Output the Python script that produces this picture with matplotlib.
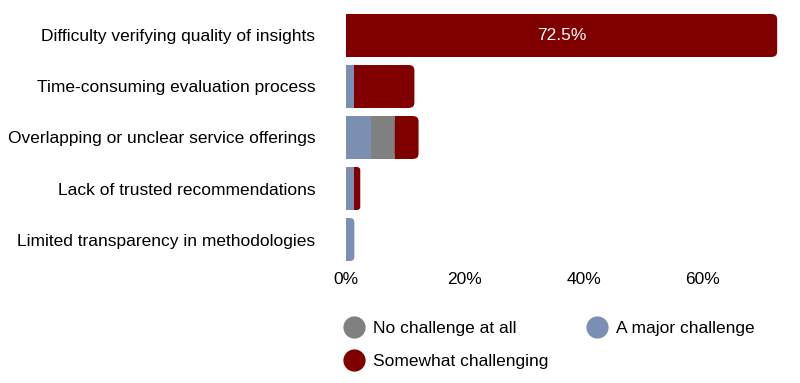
import matplotlib

matplotlib.use("Agg")
import matplotlib.pyplot as plt
from matplotlib.lines import Line2D
from matplotlib.patches import FancyBboxPatch

plt.rcParams["font.family"] = ["Liberation Sans Narrow", "Liberation Sans", "DejaVu Sans"]

categories = [
    "Difficulty verifying quality of insights",
    "Time-consuming evaluation process",
    "Overlapping or unclear service offerings",
    "Lack of trusted recommendations",
    "Limited transparency in methodologies",
]
major = [0.0, 1.4, 4.2, 1.4, 1.4]
no_challenge = [0.0, 0.0, 4.0, 0.0, 0.0]
somewhat = [72.5, 10.1, 4.0, 1.0, 0.0]
xticks = [0, 20, 40, 60]

BLUE = "#7a8fb1"
GRAY = "#808080"
RED = "#800000"
BAR_H = 0.84
XMAX = 76

fig = plt.figure(figsize=(8, 3.83), dpi=100)
ax = fig.add_axes([0.4325, 0.308, 0.5650, 0.666])
ax.set_ylim(4.5, -0.5)
ax.set_xlim(0, XMAX)

# y data units per x data unit, so rounded corners stay circular
bbox = ax.get_window_extent()
aspect = (5.0 / bbox.height) / (XMAX / bbox.width)
radius = 0.9

series = [(major, BLUE), (no_challenge, GRAY), (somewhat, RED)]
y = list(range(len(categories)))
for i in y:
    start = 0.0
    parts = [(vals[i], color) for vals, color in series if vals[i] > 0]
    for k, (w, color) in enumerate(parts):
        if k < len(parts) - 1:
            ax.barh(i, w, left=start, height=BAR_H, color=color, linewidth=0)
        else:
            r = min(radius, w / 2)
            ax.barh(i, w - r, left=start, height=BAR_H, color=color, linewidth=0)
            ax.add_patch(FancyBboxPatch((start, i - BAR_H / 2), w, BAR_H,
                                        boxstyle=f"round,pad=0,rounding_size={r}",
                                        mutation_aspect=aspect, facecolor=color, linewidth=0))
        start += w

for i, v in enumerate(somewhat):
    if v > 30:
        total = major[i] + no_challenge[i] + v
        ax.text(total / 2, i, f"{v}%", color="white", ha="center", va="center", fontsize=12.5)

ax.set_yticks(y)
ax.set_yticklabels(categories, fontsize=12.5)
ax.set_xticks(xticks)
ax.set_xticklabels([f"{t}%" for t in xticks], fontsize=12.5)
ax.tick_params(axis="y", length=0, pad=22)
ax.tick_params(axis="x", length=0, pad=5)
for s in ax.spines.values():
    s.set_visible(False)

handles = [
    Line2D([], [], marker="o", color="none", markerfacecolor=GRAY, markeredgecolor="none", markersize=16),
    Line2D([], [], marker="o", color="none", markerfacecolor=RED, markeredgecolor="none", markersize=16),
    Line2D([], [], marker="o", color="none", markerfacecolor=BLUE, markeredgecolor="none", markersize=16),
]
labels = ["No challenge at all", "Somewhat challenging", "A major challenge"]
fig.legend(handles, labels, loc="upper left", bbox_to_anchor=(0.429, 0.162), ncol=2,
           frameon=False, fontsize=12.5, handlelength=1.2, handletextpad=0.5,
           columnspacing=2.2, labelspacing=1.0, borderaxespad=0, borderpad=0)

fig.savefig("out.png", dpi=100)
